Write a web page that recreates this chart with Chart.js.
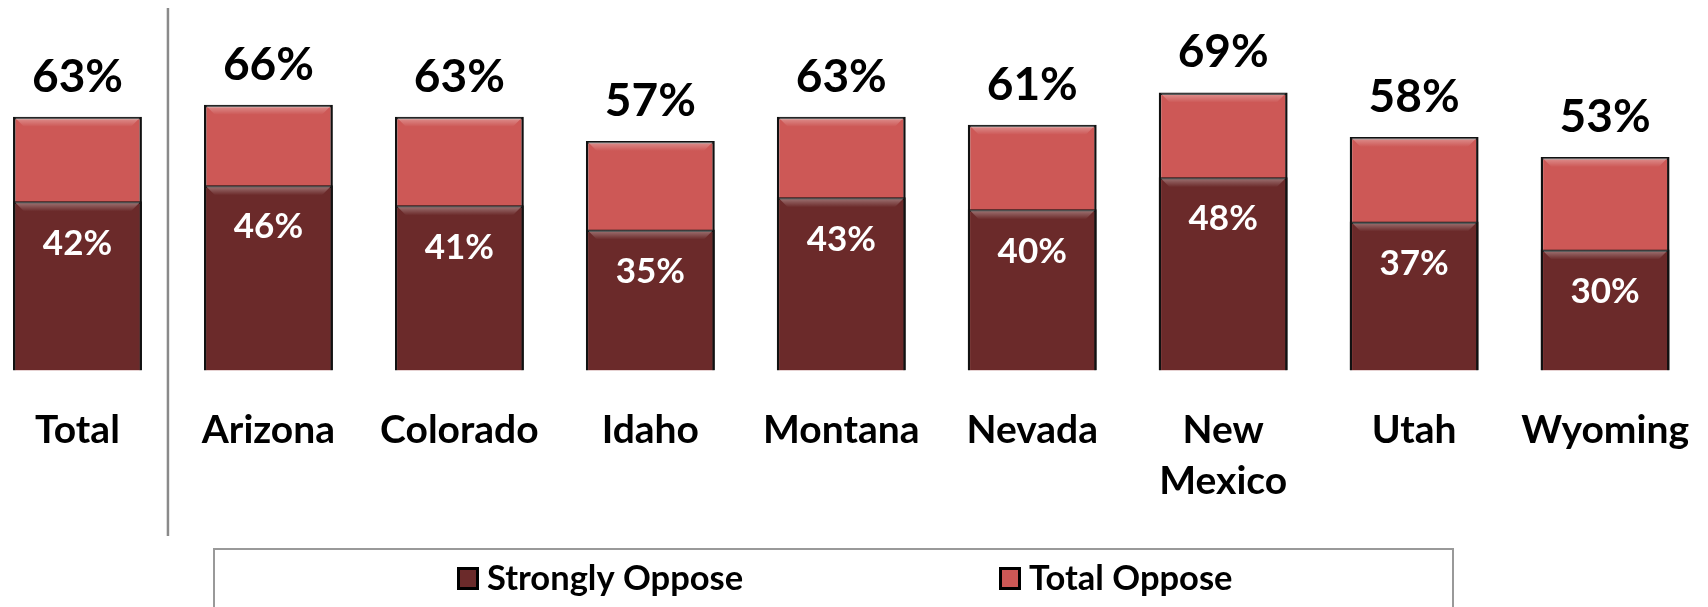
<!DOCTYPE html>
<html lang="en">
<head>
<meta charset="UTF-8">
<title>Oppose by state</title>
<style>
  html, body { margin: 0; padding: 0; background: #fff; overflow: hidden; }
  #wrap { position: absolute; left: -18px; top: 0; width: 1734px; height: 607px; }
  #myChart { display: block; }
</style>
</head>
<body>
<div id="wrap"><canvas id="myChart" width="1734" height="607"></canvas></div>

<script src="https://cdn.jsdelivr.net/npm/chart.js@4.4.0/dist/chart.umd.min.js"></script>
<script>
// values
var states = ['Total', 'Arizona', 'Colorado', 'Idaho', 'Montana', 'Nevada', ['New', 'Mexico'], 'Utah', 'Wyoming'];
var stronglyOppose = [42, 46, 41, 35, 43, 40, 48, 37, 30];
var totalOppose = [63, 66, 63, 57, 63, 61, 69, 58, 53];

var darkRed = '#6b2a2a';
var lightRed = '#cd5856';
var fontName = 'Lato, "Open Sans", sans-serif';

// light bevel strip along the top of each bar piece
var bevel = {
  id: 'bevel',
  afterDatasetsDraw: function (chart) {
    var ctx = chart.ctx;
    [1, 0].forEach(function (di) {
      var meta = chart.getDatasetMeta(di);
      meta.data.forEach(function (bar) {
        var l = bar.x - bar.width / 2 + 2, r = bar.x + bar.width / 2 - 2;
        var t = bar.y + 1;
        var g = ctx.createLinearGradient(0, t, 0, t + 9);
        g.addColorStop(0, 'rgba(255,255,255,0.35)');
        g.addColorStop(1, 'rgba(255,255,255,0)');
        ctx.save();
        ctx.fillStyle = g;
        ctx.beginPath();
        ctx.moveTo(l, t);
        ctx.lineTo(r, t);
        ctx.lineTo(r - 9, t + 9);
        ctx.lineTo(l + 9, t + 9);
        ctx.closePath();
        ctx.fill();
        ctx.restore();
      });
    });
  }
};

var labelsPlugin = {
  id: 'valueLabels',
  afterDatasetsDraw: function (chart) {
    var ctx = chart.ctx;
    var strong = chart.getDatasetMeta(0).data;
    var total = chart.getDatasetMeta(1).data;
    ctx.save();
    ctx.textAlign = 'center';
    ctx.textBaseline = 'middle';
    total.forEach(function (bar, i) {
      ctx.fillStyle = '#000';
      ctx.font = 'bold 46px ' + fontName;
      ctx.fillText(totalOppose[i] + '%', bar.x, bar.y - 40);
    });
    strong.forEach(function (bar, i) {
      ctx.fillStyle = '#fff';
      ctx.font = 'bold 35px ' + fontName;
      ctx.fillText(stronglyOppose[i] + '%', bar.x, bar.y + 42);
    });
    ctx.restore();
  }
};

var extras = {
  id: 'extras',
  afterDraw: function (chart) {
    var ctx = chart.ctx;
    var x = chart.scales.x;
    ctx.save();
    // divider between Total and the states
    var sx = (x.getPixelForValue(0) + x.getPixelForValue(1)) / 2 - 5;
    ctx.strokeStyle = '#8a8a8a';
    ctx.lineWidth = 2.5;
    ctx.beginPath();
    ctx.moveTo(sx, 8);
    ctx.lineTo(sx, 536);
    ctx.stroke();

    // legend box
    ctx.strokeStyle = '#999';
    ctx.lineWidth = 2;
    ctx.strokeRect(232, 549, 1239, 80);

    var items = [
      { label: chart.data.datasets[0].label, color: darkRed, x: 475 },
      { label: chart.data.datasets[1].label, color: lightRed, x: 1017 }
    ];
    ctx.font = 'bold 34.5px ' + fontName;
    ctx.textBaseline = 'middle';
    ctx.textAlign = 'left';
    items.forEach(function (it) {
      ctx.fillStyle = '#000';
      ctx.fillRect(it.x, 567, 22, 23);
      ctx.fillStyle = it.color;
      ctx.fillRect(it.x + 3, 570, 16, 17);
      ctx.fillStyle = '#000';
      ctx.fillText(it.label, it.x + 30, 579);
    });
    ctx.restore();
  }
};

new Chart(document.getElementById('myChart'), {
  type: 'bar',
  data: {
    labels: states,
    datasets: [
      {
        label: 'Strongly Oppose',
        data: stronglyOppose,
        backgroundColor: darkRed,
        borderColor: '#111',
        borderWidth: 2.5,
        barPercentage: 0.675,
        categoryPercentage: 1
      },
      {
        label: 'Total Oppose',
        data: totalOppose,
        backgroundColor: lightRed,
        borderColor: '#111',
        borderWidth: 2.5,
        barPercentage: 0.675,
        categoryPercentage: 1
      }
    ]
  },
  options: {
    responsive: false,
    animation: false,
    devicePixelRatio: 1,
    layout: { padding: 0 },
    plugins: {
      legend: { display: false },
      tooltip: { enabled: false }
    },
    scales: {
      x: {
        stacked: true,
        grid: { display: false },
        border: { display: false },
        ticks: {
          color: '#000',
          font: { family: fontName, size: 39, weight: 'bold', lineHeight: 1.3 },
          padding: 27,
          maxRotation: 0,
          autoSkip: false
        },
        afterFit: function (s) { s.height = 236.6; }
      },
      y: {
        display: false,
        stacked: false,
        min: 0,
        max: 92
      }
    }
  },
  plugins: [bevel, labelsPlugin, extras]
});
</script>
</body>
</html>
